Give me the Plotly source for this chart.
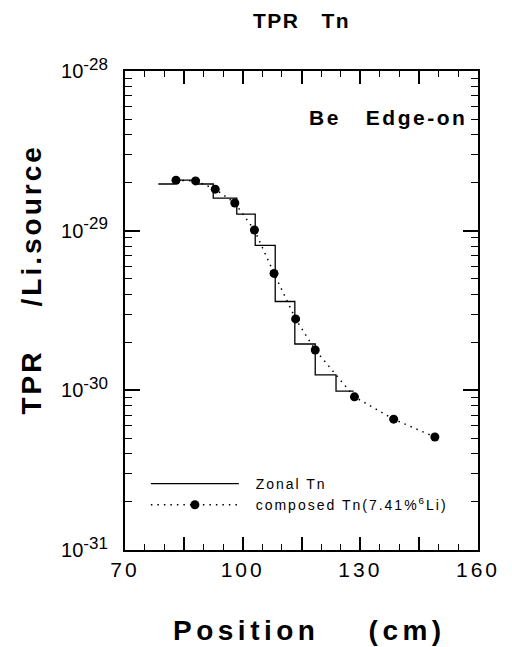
import plotly.graph_objects as go

# ---- data ----
composed_pos = [83, 88, 93, 98, 103, 108, 113.5, 118.5, 128.5, 138.5, 149]
composed_tpr = [2.07e-29, 2.05e-29, 1.82e-29, 1.49e-29, 1.01e-29, 5.4e-30,
                2.8e-30, 1.79e-30, 9.1e-31, 6.6e-31, 5.1e-31]

zone_edges = [78.5, 82.5, 88, 92.5, 98.5, 103.2, 108.3, 113.3, 118.5, 123.8, 128.3]
zone_tpr = [1.96e-29, 2.07e-29, 1.96e-29, 1.60e-29, 1.27e-29, 8.1e-30,
            3.6e-30, 1.95e-30, 1.25e-30, 9.9e-31]

x_tickvals = [70, 85, 100, 115, 130, 145, 160]
x_ticktext = ["70", "", "100", "", "130", "", "160"]
y_tickvals = [1e-31, 1e-30, 1e-29, 1e-28]
y_exponents = ["-31", "-30", "-29", "-28"]

X_RANGE = [70, 160]
Y_RANGE = [-31, -28]
FONT = "Liberation Sans, Arial, Helvetica, sans-serif"

TOP, BOTTOM = 71, 550
PLOT_H = BOTTOM - TOP


def px_x(px):
    return (px - 125) / 355


def px_y(py):
    return (BOTTOM - py) / PLOT_H


def spaced(t, ls):
    if not t:
        return t
    return f"<span style='letter-spacing:{ls}px'>{t}</span>"


fig = go.Figure()

fig.add_trace(go.Scatter(
    x=zone_edges, y=zone_tpr + [zone_tpr[-1]],
    mode="lines", line=dict(color="black", width=1.3, shape="hv"),
    name=spaced("&nbsp;&nbsp;Zonal Tn", 2),
))
fig.add_trace(go.Scatter(
    x=composed_pos, y=composed_tpr,
    mode="lines+markers",
    line=dict(color="black", width=1.5, dash="1.5px,5px"),
    marker=dict(color="black", size=9),
    name=spaced("&nbsp;&nbsp;composed Tn(7.41%<sup>6</sup>Li)", 2),
))

frame = dict(showline=True, linecolor="black", linewidth=2, mirror="allticks",
             showgrid=False, zeroline=False, ticks="inside", tickcolor="black")

fig.update_layout(
    xaxis=dict(
        range=X_RANGE, tickmode="array", tickvals=x_tickvals,
        ticktext=[spaced(t, 3) for t in x_ticktext],
        ticklen=13, tickwidth=1.5,
        tickfont=dict(family=FONT, size=21, color="black"),
        minor=dict(ticks="inside", ticklen=6, dtick=5, tickcolor="black",
                   tickwidth=1.2, showgrid=False),
        **frame,
    ),
    yaxis=dict(
        type="log", range=Y_RANGE, tickmode="array", tickvals=y_tickvals,
        ticktext=[f"10<sup><span style='font-size:17px'>{e}</span></sup>&nbsp;&nbsp;"
                  for e in y_exponents],
        ticklen=15, tickwidth=1.5,
        tickfont=dict(family=FONT, size=20, color="black"),
        minor=dict(ticks="inside", ticklen=7, dtick="D1",
                   tickcolor="black", tickwidth=1.2, showgrid=False),
        **frame,
    ),
)

fig.add_annotation(
    text=spaced("TPR&nbsp;&nbsp;&nbsp;Tn", 1.5), xref="paper", yref="paper",
    x=0.5, y=px_y(21), xanchor="center", yanchor="middle", showarrow=False,
    font=dict(family=FONT, size=21, color="black", weight="bold"),
)
fig.add_annotation(
    text=spaced("Be&nbsp;&nbsp;&nbsp;Edge-on", 2.5), xref="paper", yref="paper",
    x=px_x(308), y=px_y(117.5), xanchor="left", yanchor="middle",
    showarrow=False,
    font=dict(family=FONT, size=21, color="black", weight="bold"),
)
fig.add_annotation(
    text=spaced("TPR&nbsp;&nbsp;&nbsp;&nbsp;/Li.source", 3), xref="paper", yref="paper",
    x=px_x(30), y=px_y(280), xanchor="center", yanchor="middle",
    textangle=-90, showarrow=False,
    font=dict(family=FONT, size=28, color="black", weight="bold"),
)
fig.add_annotation(
    text=spaced("Position&nbsp;&nbsp;&nbsp;&nbsp;(cm)", 4.5), xref="paper", yref="paper",
    x=px_x(311), y=px_y(630), xanchor="center", yanchor="middle",
    showarrow=False,
    font=dict(family=FONT, size=28, color="black", weight="bold"),
)

fig.update_layout(
    width=512, height=647,
    margin=dict(l=125, r=32, t=TOP, b=647 - BOTTOM),
    paper_bgcolor="white", plot_bgcolor="white",
    showlegend=True,
    legend=dict(
        x=px_x(146), y=px_y(468), xanchor="left", yanchor="top",
        bgcolor="rgba(0,0,0,0)", itemwidth=88, tracegroupgap=0,
        font=dict(family=FONT, size=14, color="black"),
    ),
)

fig.write_html("out.html")
